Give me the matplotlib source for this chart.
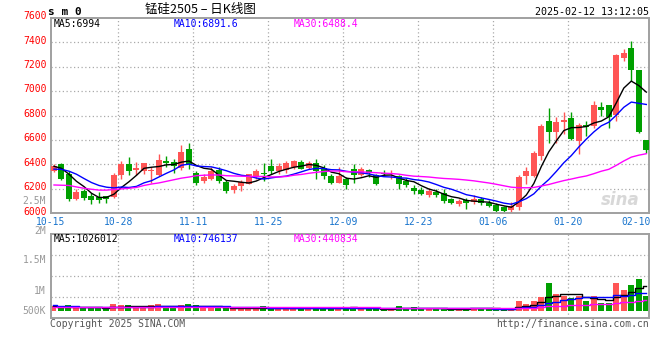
import numpy as np
import pandas as pd
import matplotlib
matplotlib.use("Agg")
import matplotlib.pyplot as plt
from matplotlib.transforms import ScaledTranslation

# daily candles, 80 sessions
opens = [6350, 6405, 6324, 6118, 6185, 6140, 6130, 6138, 6132, 6310,
         6400, 6352, 6345, 6350, 6312, 6430, 6422, 6373, 6530, 6334,
         6263, 6285, 6354, 6258, 6189, 6222, 6244, 6299, 6328, 6386,
         6345, 6354, 6381, 6417, 6373, 6408, 6373, 6304, 6252, 6277,
         6359, 6313, 6354, 6313, 6334, 6318, 6304, 6266, 6211, 6190,
         6151, 6178, 6164, 6115, 6077, 6110, 6093, 6120, 6088, 6066,
         6049, 6030, 6050, 6305, 6307, 6466, 6755, 6665, 6748, 6780,
         6596, 6726, 6713, 6870, 6884, 6808, 7275, 7357, 7174, 6598]
highs = [6405, 6412, 6345, 6200, 6195, 6167, 6175, 6145, 6330, 6432,
         6458, 6418, 6415, 6380, 6488, 6470, 6445, 6559, 6573, 6348,
         6326, 6381, 6381, 6271, 6244, 6271, 6326, 6367, 6408, 6441,
         6414, 6428, 6436, 6436, 6428, 6441, 6395, 6326, 6376, 6299,
         6400, 6381, 6367, 6326, 6354, 6354, 6312, 6293, 6230, 6217,
         6205, 6197, 6197, 6123, 6115, 6123, 6151, 6131, 6110, 6082,
         6060, 6096, 6315, 6376, 6507, 6734, 6865, 6790, 6830, 6830,
         6740, 6753, 6922, 6911, 6884, 7302, 7346, 7411, 7175, 6598]
lows = [6335, 6272, 6103, 6112, 6110, 6074, 6085, 6088, 6122, 6280,
        6310, 6310, 6325, 6245, 6305, 6378, 6330, 6354, 6362, 6230,
        6250, 6271, 6250, 6167, 6167, 6184, 6238, 6285, 6266, 6321,
        6326, 6334, 6367, 6359, 6359, 6285, 6280, 6236, 6250, 6195,
        6252, 6304, 6299, 6230, 6304, 6285, 6203, 6217, 6162, 6148,
        6137, 6137, 6088, 6077, 6060, 6033, 6077, 6068, 6049, 6014,
        6014, 6000, 6025, 6241, 6296, 6433, 6575, 6578, 6650, 6604,
        6482, 6631, 6699, 6794, 6699, 6753, 7251, 7085, 6660, 6490]
closes = [6385, 6285, 6118, 6178, 6128, 6112, 6113, 6120, 6310, 6405,
          6345, 6375, 6408, 6354, 6435, 6414, 6389, 6504, 6400, 6252,
          6299, 6348, 6263, 6181, 6222, 6258, 6318, 6345, 6322, 6345,
          6386, 6408, 6427, 6367, 6414, 6348, 6304, 6252, 6304, 6230,
          6313, 6359, 6332, 6236, 6321, 6322, 6236, 6230, 6184, 6158,
          6186, 6151, 6104, 6082, 6104, 6088, 6120, 6082, 6060, 6022,
          6022, 6062, 6300, 6345, 6493, 6718, 6665, 6745, 6768, 6612,
          6726, 6704, 6889, 6848, 6786, 7297, 7310, 7174, 6666, 6517]
volumes = [200000, 120000, 230000, 120000, 120000, 120000, 120000, 105000, 270000, 230000,
           230000, 170000, 170000, 230000, 270000, 155000, 155000, 230000, 270000, 230000,
           155000, 120000, 120000, 120000, 120000, 120000, 120000, 120000, 185000, 120000,
           120000, 120000, 120000, 120000, 80000, 120000, 120000, 140000, 140000, 140000,
           140000, 90000, 90000, 65000, 65000, 65000, 200000, 90000, 140000, 90000,
           115000, 70000, 115000, 70000, 70000, 115000, 115000, 115000, 70000, 70000,
           70000, 115000, 400000, 275000, 425000, 565000, 1180000, 690000, 620000, 520000,
           610000, 430000, 600000, 345000, 346000, 1180000, 880000, 1090000, 1345000, 635000]

# moving-average values before the window fills
ma5_head = [6385, 6368, 6320, 6262]
ma10_head = [6362, 6360, 6345, 6320, 6285, 6252, 6228, 6214, 6208]
ma30_head = [6232, 6230, 6228, 6216, 6205, 6197, 6190, 6190, 6195, 6200,
             6205, 6212, 6228, 6240, 6249, 6262, 6275, 6288, 6297, 6308,
             6312, 6314, 6314, 6308, 6306, 6304, 6302, 6302, 6302]
vma5_head = [180000, 165000, 175000, 160000]
vma10_head = [225000, 185000, 185000, 180000, 175000, 170000, 165000, 160000, 160000]
vma30_head = [152000, 151000, 151000, 150000, 150000, 149000, 149000, 148000, 149000, 150000,
              151000, 151000, 152000, 153000, 154000, 155000, 155000, 156000, 157000, 158000,
              158000, 158000, 158000, 157000, 157000, 156000, 156000, 156000, 156000]

date_labels = ["10-15", "10-28", "11-11", "11-25", "12-09", "12-23", "01-06", "01-20", "02-10"]
date_index = [0, 9, 19, 29, 39, 49, 59, 69, 78]
price_ticks = [6000, 6200, 6400, 6600, 6800, 7000, 7200, 7400, 7600]
vol_labels = ["2.5M", "2M", "1.5M", "1M", "500K"]
vol_label_y = [201, 231, 260, 291, 311]   # pixel rows of the odd volume labels

UP, DOWN = "#FF5555", "#00A000"
MONO = "DejaVu Sans Mono"
GRID = dict(color="#AAAAAA", lw=0.9, ls=(0, (1, 2)))
W, H = 660, 360


def moving_avg(vals, n, head):
    s = pd.Series(vals, dtype=float).rolling(n).mean().to_numpy()
    s[:n - 1] = head
    return s


def fxy(x, y):
    return x / W, 1 - y / H


o, hi, lo, c = map(np.array, (opens, highs, lows, closes))
vol = np.array(volumes, dtype=float)
x = np.arange(len(c))
cols = np.where(c >= o, UP, DOWN)

fig = plt.figure(figsize=(6.6, 3.6), dpi=100)
ax = fig.add_axes([51 / W, 1 - 213.3 / H, 598 / W, 195.3 / H])
axv = fig.add_axes([51 / W, 1 - 318 / H, 598 / W, 84 / H])

# ---- price panel
for gx in date_index[1:-1]:
    ax.axvline(gx - 0.4, zorder=0, **GRID)
    axv.axvline(gx - 0.4, zorder=0, **GRID)
for gy in price_ticks[1:-1]:
    ax.axhline(gy, zorder=0, **GRID)

ax.vlines(x, lo, hi, colors=cols, lw=1, zorder=2)
ax.bar(x, np.maximum(np.abs(c - o), 6), bottom=np.minimum(o, c), width=0.8,
       color=cols, linewidth=0, zorder=3)

ax.plot(x, moving_avg(c, 5, ma5_head), color="black", lw=1, zorder=4)
ax.plot(x, moving_avg(c, 10, ma10_head), color="#0000FF", lw=1, zorder=4)
ax.plot(x, moving_avg(c, 30, ma30_head), color="#FF00FF", lw=1, zorder=4)

ax.set_xlim(-0.29, 79.36)
ax.set_ylim(6000, 7600)
ax.set_yticks(price_ticks)
ax.set_yticklabels([str(t) for t in price_ticks], color="#FF0000", fontsize=7, family=MONO)
ax.set_xticks([i - 0.4 for i in date_index])
ax.set_xticklabels(date_labels, color="#1874CD", fontsize=7, family=MONO)
ax.tick_params(length=0, pad=3)
for lbl in ax.get_yticklabels():
    lbl.set_transform(lbl.get_transform() + ScaledTranslation(0, 2 / 72, fig.dpi_scale_trans))

ax.text(0.985, 0.07, "sina", transform=ax.transAxes, ha="right", va="center",
        fontsize=12, style="italic", weight="bold", color="#D8D8D8", zorder=1)

# ---- volume panel
axv.bar(x, vol, width=0.8, color=cols, linewidth=0, zorder=2)
axv.plot(x, moving_avg(vol, 5, vma5_head), color="black", lw=1, drawstyle="steps-mid", zorder=3)
axv.plot(x, moving_avg(vol, 10, vma10_head), color="#0000FF", lw=1, drawstyle="steps-mid", zorder=3)
axv.plot(x, moving_avg(vol, 30, vma30_head), color="#FF00FF", lw=1, drawstyle="steps-mid", zorder=3)
for f in (0.25, 0.5, 0.75):
    axv.plot([0, 1], [f, f], transform=axv.transAxes, zorder=0, **GRID)
axv.set_xlim(-0.29, 79.36)
axv.set_ylim(-308000, 3237000)
axv.set_xticks([])
axv.set_yticks([])

for a in (ax, axv):
    for sp in a.spines.values():
        sp.set_color("#A0A0A0")
        sp.set_linewidth(1.4)

# ---- texts
fig.text(*fxy(48, 12), "s m 0", fontsize=8, weight="bold", family=MONO, va="center")
fig.text(*fxy(200, 9), "锰硅2505 – 日K线图", fontsize=9, ha="center", va="center",
         family=["Noto Sans CJK SC", "DejaVu Sans"])
fig.text(*fxy(649, 12), "2025-02-12 13:12:05", fontsize=7.2, family=MONO, ha="right", va="center")

fig.text(*fxy(54, 24), "MA5:6994", fontsize=7, family=MONO, va="center", color="black")
fig.text(*fxy(174, 24), "MA10:6891.6", fontsize=7, family=MONO, va="center", color="#0000FF")
fig.text(*fxy(294, 24), "MA30:6488.4", fontsize=7, family=MONO, va="center", color="#FF00FF")

fig.text(*fxy(54, 238.5), "MA5:1026012", fontsize=7, family=MONO, va="center", color="black")
fig.text(*fxy(174, 238.5), "MA10:746137", fontsize=7, family=MONO, va="center", color="#0000FF")
fig.text(*fxy(294, 238.5), "MA30:440834", fontsize=7, family=MONO, va="center", color="#FF00FF")

for lab, yy in zip(vol_labels, vol_label_y):
    fig.text(*fxy(46, yy), lab, fontsize=7, family=MONO, ha="right", va="center", color="#999999")

fig.text(*fxy(50, 324), "Copyright 2025 SINA.COM", fontsize=7, family=MONO, va="center", color="#555555")
fig.text(*fxy(649, 324), "http://finance.sina.com.cn", fontsize=7, family=MONO,
         ha="right", va="center", color="#555555")

fig.savefig("out.png", dpi=100)
